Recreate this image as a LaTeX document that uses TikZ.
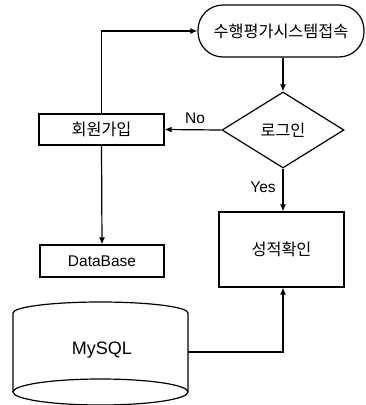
\documentclass[tikz,border=0pt]{standalone}
\usepackage{fontspec}
\setmainfont{Liberation Sans}
\newfontfamily\kr{Noto Sans CJK KR}
\usetikzlibrary{shapes.geometric,arrows.meta}
\begin{document}
\begin{tikzpicture}[x=1pt,y=-1pt,
  every node/.style={font=\fontsize{15.5}{18}\selectfont},
  krf/.style={font=\kr\fontsize{16.3}{18}\selectfont},
  box/.style={draw,line width=1.2pt,rectangle,inner sep=0pt},
  arr/.style={line width=1.2pt,-{Latex[length=7pt,width=6pt]}},
  ln/.style={line width=1.2pt},
  lbl/.style={inner sep=0pt}]
\useasboundingbox (0,0) rectangle (366,405);
\node[box,rounded corners=25pt,minimum width=166pt,minimum height=52pt,krf] (start) at (281,31) {수행평가시스템접속};
\node[draw,line width=1.2pt,diamond,aspect=1.6,minimum width=122pt,minimum height=76pt,inner sep=0pt,krf] (login) at (283,130) {로그인};
\node[box,minimum width=125pt,minimum height=31pt,krf] (join) at (101.5,129.5) {회원가입};
\node[box,minimum width=124pt,minimum height=32pt] (db) at (102,261) {DataBase};
\node[box,minimum width=125pt,minimum height=75pt,krf] (grade) at (281.5,249.5) {성적확인};
% cylinder
\draw[ln] (13,392) -- (13,313) arc[start angle=180,end angle=0,x radius=87.5pt,y radius=11pt] -- (188,392);
\draw[ln] (100.5,392) ellipse[x radius=87.5pt,y radius=13pt];
\node[lbl,font=\fontsize{18}{21}\selectfont] (mysql) at (102,350) {MySQL};
\coordinate (dbR) at (188,352);
% connectors
\draw[arr] (login.north |- start.south) -- (login.north);
\draw[arr] (login.west) -- (join.east);
\node[lbl] (no) at (195,118) {No};
\draw[arr] (join.north) |- (start.west);
\draw[arr] (join.south) -- (db.north);
\draw[arr] (login.south) -- (login.south |- grade.north);
\node[lbl] (yes) at (263,187) {Yes};
\draw[arr] (dbR) -| (login.south |- grade.south);
\end{tikzpicture}
\end{document}
